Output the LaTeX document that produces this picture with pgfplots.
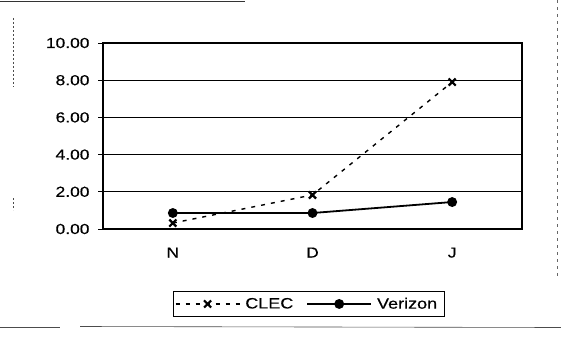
\documentclass[border=0pt]{standalone}
\usepackage{pgfplots}
\pgfplotsset{compat=1.18}
\usepackage{fontspec}
\setmainfont{Liberation Sans}[FakeStretch=1.2, FakeBold=0.4]
\begin{document}
\begin{tikzpicture}[x=1pt,y=1pt]
\useasboundingbox (0,0) rectangle (561,338);
% outer chart area (scanned frame)
\draw[black!80, line width=0.8pt] (0,337) -- (245,337);
\draw[black!70, line width=0.5pt, dash pattern=on 2pt off 2pt] (13,320) -- (13,251);
\draw[black!70, line width=0.5pt, dash pattern=on 2pt off 2pt] (13,140) -- (13,128);
\draw[black!60, line width=0.5pt, dash pattern=on 3pt off 4pt] (557,338) -- (557,60);
\draw[black!70, line width=0.6pt] (0,11) -- (60,11);
\draw[black!70, line width=0.6pt] (80,11.5) -- (561,10.5);
\begin{axis}[
  at={(103pt,109pt)}, anchor=south west,
  scale only axis, width=419pt, height=186pt,
  xmin=-0.5, xmax=2.5, ymin=0, ymax=10,
  xtick={0,1,2}, xticklabels={N,D,J},
  ytick={0,2,4,6,8,10},
  /pgf/number format/assume math mode=true,
  ymajorgrids, grid style={black, line width=0.7pt},
  axis line style={black, line width=2pt},
  tick style={black, line width=0.8pt},
  major tick length=5pt,
  xtick style={draw=none},
  ytick pos=left, tick align=outside,
  tick label style={font=\fontsize{14.5}{16}\selectfont},
  xticklabel style={yshift=-10pt},
  yticklabel style={xshift=-5pt, /pgf/number format/.cd, fixed, fixed zerofill, precision=2},
  legend style={at={(0.4905,-0.403)}, anchor=center, draw=black, line width=0.6pt,
    font=\fontsize{15}{17}\selectfont, legend columns=2,
    /tikz/every even column/.append style={column sep=8pt},
    inner xsep=2pt, inner ysep=4pt,
    nodes={inner xsep=5pt}},
  legend cell align=left,
  legend image code/.code={\draw[mark repeat=2, mark phase=2, #1] plot coordinates {(0pt,0pt) (32pt,0pt) (64pt,0pt)};},
]
\addplot[black, line width=1.4pt, dash pattern=on 4pt off 6pt, mark=x, mark size=5pt, mark options={solid, line width=2.2pt}]
  coordinates {(0,0.32) (1,1.83) (2,7.9)};
\addlegendentry{CLEC}
\addplot[black, line width=1.8pt, mark=*, mark size=4pt, mark options={solid}]
  coordinates {(0,0.86) (1,0.86) (2,1.45)};
\addlegendentry{Verizon}
\end{axis}
\end{tikzpicture}
\end{document}
